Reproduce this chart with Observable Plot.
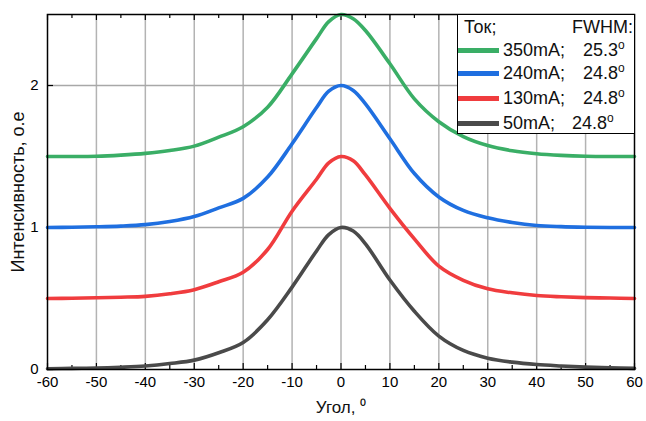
<!DOCTYPE html>
<html>
<head>
<meta charset="utf-8">
<script src="https://cdn.jsdelivr.net/npm/d3@7"></script>
<script src="https://cdn.jsdelivr.net/npm/@observablehq/plot@0.6"></script>
<style>
  body { margin: 0; background: #fff; font-family: "Liberation Sans", Arial, sans-serif; }
  #wrap { position: relative; width: 646px; height: 421px; }
  #legend { position: absolute; left: 457px; top: 14px; width: 176px; height: 118px;
            border: 1px solid #000; background: #fff; font-size: 18px; color: #111; overflow: hidden; }
  #legend .t { position: absolute; white-space: pre; line-height: 1; }
  #legend .sw { position: absolute; left: 0; width: 41px; height: 5px; }
  #legend sup { font-size: 12px; vertical-align: 0; position: relative; top: -7px; }
</style>
</head>
<body>
<div id="wrap"></div>
<script>
// Angle values (degrees)
const angles = [-60,-55,-50,-45,-40,-35,-30,-25,-20,-15,-10,-5,-2.5,0,2.5,5,10,15,20,25,30,35,40,45,50,55,60];
// Intensities as plotted (each curve offset by 0.5)
const i50  = [0.005,0.008,0.010,0.016,0.025,0.042,0.066,0.118,0.190,0.350,0.580,0.835,0.950,1.000,0.975,0.885,0.630,0.410,0.235,0.134,0.080,0.052,0.035,0.025,0.017,0.012,0.008];
const i130 = [0.500,0.502,0.505,0.509,0.515,0.533,0.562,0.618,0.685,0.845,1.115,1.340,1.455,1.500,1.470,1.370,1.135,0.920,0.728,0.628,0.568,0.540,0.521,0.512,0.506,0.503,0.500];
const i240 = [1.000,1.002,1.005,1.010,1.020,1.042,1.077,1.138,1.205,1.355,1.590,1.845,1.960,2.000,1.965,1.870,1.625,1.380,1.215,1.120,1.068,1.035,1.014,1.006,1.002,1.000,1.000];
const i350 = [1.500,1.500,1.502,1.510,1.522,1.542,1.573,1.636,1.710,1.847,2.082,2.330,2.450,2.500,2.470,2.387,2.153,1.906,1.745,1.640,1.577,1.540,1.519,1.508,1.502,1.500,1.500];

const seriesNames = ["350mA", "240mA", "130mA", "50mA"];
const seriesColors = ["#3aae66", "#1f6fe0", "#f03c3e", "#4a4a4a"];
const fwhm = ["25.3", "24.8", "24.8", "24.8"];
const seriesValues = [i350, i240, i130, i50];

const xTicks = [-60,-50,-40,-30,-20,-10,0,10,20,30,40,50,60];
const xMinor = [-55,-45,-35,-25,-15,-5,5,15,25,35,45,55];
const xGrid = [-50,-40,-30,-20,-10,0,10,20,30,40,50];
const yTicks = [0,1,2];
const yGrid = [1,2];

const rows = [];
seriesNames.forEach((s, k) => angles.forEach((a, j) => rows.push({series: s, angle: a, value: seriesValues[k][j]})));

const W = 646, H = 421, mL = 47, mR = 12, mT = 14, mB = 52;
const pw = W - mL - mR, ph = H - mT - mB;

const chart = Plot.plot({
  width: W, height: H,
  marginLeft: mL, marginRight: mR, marginTop: mT, marginBottom: mB,
  style: {fontFamily: "'Liberation Sans', Arial, sans-serif", background: "#fff", overflow: "visible"},
  x: {domain: [-60, 60]},
  y: {domain: [0, 2.5]},
  color: {domain: seriesNames, range: seriesColors},
  marks: [
    Plot.ruleX(xGrid, {stroke: "#b3b3b3", strokeWidth: 1.5}),
    Plot.ruleY(yGrid, {stroke: "#a8a8a8", strokeWidth: 1.5}),
    // inward ticks
    Plot.tickX(xTicks, {insetTop: ph - 6, stroke: "#000", strokeWidth: 1.2}),
    Plot.tickX(xMinor, {insetTop: ph - 4, stroke: "#000", strokeWidth: 1.2}),
    Plot.tickX(xTicks, {insetBottom: ph - 6, stroke: "#000", strokeWidth: 1.2}),
    Plot.tickX(xMinor, {insetBottom: ph - 4, stroke: "#000", strokeWidth: 1.2}),
    Plot.tickY(yTicks, {insetRight: pw - 6, stroke: "#000", strokeWidth: 1.2}),
    Plot.line(rows, {x: "angle", y: "value", z: "series", stroke: "series", strokeWidth: 3.6, curve: "catmull-rom"}),
    Plot.frame({stroke: "#000", strokeWidth: 1.5}),
    Plot.axisX({ticks: xTicks, tickSize: 0, tickPadding: 7, fontSize: 15, label: null, tickFormat: d => String(d)}),
    Plot.axisY({ticks: yTicks, tickSize: 0, tickPadding: 9, fontSize: 15, label: null, tickFormat: d => String(d)}),
    Plot.text(["Угол, ⁰"], {frameAnchor: "bottom", dy: 43, fontSize: 17, fill: "#111"}),
    Plot.text(["Интенсивность, о.е"], {frameAnchor: "left", textAnchor: "middle", rotate: -90, dx: -29, dy: 0, fontSize: 18, fill: "#111"})
  ]
});
const wrap = document.getElementById("wrap");
wrap.appendChild(chart);

// Legend
const lg = document.createElement("div");
lg.id = "legend";
const add = (html, left, top, cls = "t") => {
  const e = document.createElement("span");
  e.className = cls; e.innerHTML = html;
  e.style.left = left + "px"; e.style.top = top + "px";
  lg.appendChild(e);
};
add("Ток;", 6, 3);
add("FWHM:", 114, 3);
const rowY = [35, 58, 83, 108];
const valX = [125, 125, 125, 114];
seriesNames.forEach((s, k) => {
  const sw = document.createElement("div");
  sw.className = "sw";
  sw.style.top = (rowY[k] - 2.5) + "px";
  sw.style.background = seriesColors[k];
  lg.appendChild(sw);
  add(s + ";", 45, rowY[k] - 9);
  add(fwhm[k] + "<sup>o</sup>", valX[k], rowY[k] - 9);
});
wrap.appendChild(lg);
</script>
</body>
</html>
